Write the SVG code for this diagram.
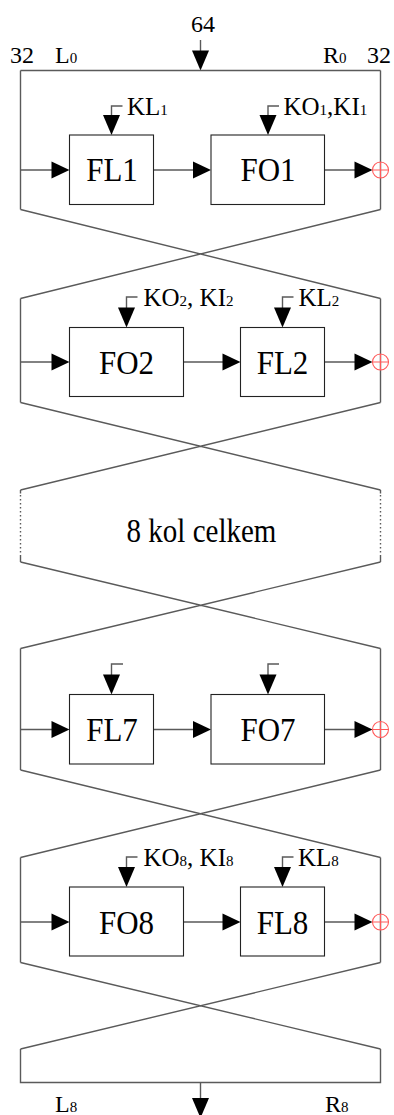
<svg xmlns="http://www.w3.org/2000/svg" width="394" height="1115" viewBox="0 0 394 1115">
<style>
.ln{fill:none;stroke:#5a5a5a;stroke-width:1.4}
.dot{fill:none;stroke:#5a5a5a;stroke-width:1.4;stroke-dasharray:1.4 2.6}
.box{fill:#fff;stroke:#222;stroke-width:1.1}
.ah{fill:#000}
.xor{fill:none;stroke:#ff5a5a;stroke-width:1.1}
.t{font-family:"Liberation Serif","Times New Roman",serif;fill:#000}
.big{font-size:31px;text-anchor:middle}
.lab{font-size:24px}
.key{font-size:25px}
.sub{font-size:15px}
</style>
<defs>
<g id="ahd"><path class="ah" d="M-8.5,-20 L8.5,-20 L0,0 Z"/></g>
<g id="ahr"><path class="ah" d="M-18,-8.5 L-18,8.5 L0,0 Z"/></g>
<g id="xr"><circle class="xor" cx="0" cy="0" r="8"/><path class="xor" d="M-8,0H8M0,-8V8"/></g>
</defs>

<g id="connectors">
<path class="ln" d="M200.5,40V52"/>
<use href="#ahd" x="200.5" y="70.5"/>
<path class="ln" d="M20.5,70.5H380.5"/>
<path class="ln" d="M20.5,70.5V209.5M380.5,70.5V209.5"/>
<path class="ln" d="M20.5,170H52M153.5,170H194M324.5,170H355"/>
<use href="#ahr" x="69.5" y="170"/><use href="#ahr" x="211" y="170"/><use href="#ahr" x="372.5" y="170"/>
<path class="ln" d="M122.5,106H111.5V116M279,106H268V116"/>
<use href="#ahd" x="111.5" y="135"/><use href="#ahd" x="268" y="135"/>
<path class="ln" d="M20.5,209.5L380.5,298.5M380.5,209.5L20.5,298.5"/>
<path class="ln" d="M20.5,298.5V402.5M380.5,298.5V402.5"/>
<path class="ln" d="M20.5,362H52M183.5,362H223M324.5,362H355"/>
<use href="#ahr" x="69.5" y="362"/><use href="#ahr" x="240.5" y="362"/><use href="#ahr" x="372.5" y="362"/>
<path class="ln" d="M137.5,297H126.5V308M293.5,297H282.5V308"/>
<use href="#ahd" x="126.5" y="327.5"/><use href="#ahd" x="282.5" y="327.5"/>
<path class="ln" d="M20.5,402.5L380.5,490M380.5,402.5L20.5,490"/>
<path class="ln" d="M20.5,490V493.5M380.5,490V493.5M20.5,555V562M380.5,555V562"/>
<path class="dot" d="M20.5,495V555M380.5,495V555"/>
<path class="ln" d="M20.5,562L380.5,648.5M380.5,562L20.5,648.5"/>
<path class="ln" d="M20.5,648.5V770M380.5,648.5V770"/>
<path class="ln" d="M20.5,729.5H52M153.5,729.5H194M324.5,729.5H355"/>
<use href="#ahr" x="69.5" y="729.5"/><use href="#ahr" x="211" y="729.5"/><use href="#ahr" x="372.5" y="729.5"/>
<path class="ln" d="M123,664H111.5V676M279,664H268V676"/>
<use href="#ahd" x="111.5" y="694.5"/><use href="#ahd" x="268" y="694.5"/>
<path class="ln" d="M20.5,770L380.5,857.5M380.5,770L20.5,857.5"/>
<path class="ln" d="M20.5,857.5V962.5M380.5,857.5V962.5"/>
<path class="ln" d="M20.5,922H52M183.5,922H223M324.5,922H355"/>
<use href="#ahr" x="69.5" y="922"/><use href="#ahr" x="240.5" y="922"/><use href="#ahr" x="372.5" y="922"/>
<path class="ln" d="M137.5,857H126.5V868M293.5,857H282.5V868"/>
<use href="#ahd" x="126.5" y="887"/><use href="#ahd" x="282.5" y="887"/>
<path class="ln" d="M20.5,962.5L380.5,1049M380.5,962.5L20.5,1049"/>
<path class="ln" d="M20.5,1049V1082.5H380.5V1049"/>
<path class="ln" d="M200.5,1082.5V1099"/>
<use href="#ahd" x="200.5" y="1118"/>
</g>

<g id="xor1"><use href="#xr" x="380.5" y="170"/></g>
<g id="xor2"><use href="#xr" x="380.5" y="362"/></g>
<g id="xor7"><use href="#xr" x="380.5" y="729.5"/></g>
<g id="xor8"><use href="#xr" x="380.5" y="922"/></g>

<g id="FL1"><rect class="box" x="69.5" y="135" width="84" height="69.5"/><text class="t big" transform="translate(112,180.5) scale(1,1.12)">FL1</text></g>
<g id="FO1"><rect class="box" x="211" y="135" width="113.5" height="69.5"/><text class="t big" transform="translate(268,180.5) scale(1,1.12)">FO1</text></g>
<g id="FO2"><rect class="box" x="69.5" y="327.5" width="114" height="69"/><text class="t big" transform="translate(126.5,373.5) scale(1,1.12)">FO2</text></g>
<g id="FL2"><rect class="box" x="240.5" y="327.5" width="84" height="69"/><text class="t big" transform="translate(282.5,373.5) scale(1,1.12)">FL2</text></g>
<g id="FL7"><rect class="box" x="69.5" y="694.5" width="84" height="69.5"/><text class="t big" transform="translate(112,740.5) scale(1,1.12)">FL7</text></g>
<g id="FO7"><rect class="box" x="211" y="694.5" width="113.5" height="69.5"/><text class="t big" transform="translate(268,740.5) scale(1,1.12)">FO7</text></g>
<g id="FO8"><rect class="box" x="69.5" y="887" width="114" height="69"/><text class="t big" transform="translate(126.5,933.5) scale(1,1.12)">FO8</text></g>
<g id="FL8"><rect class="box" x="240.5" y="887" width="84" height="69"/><text class="t big" transform="translate(282.5,933.5) scale(1,1.12)">FL8</text></g>

<g id="labels">
<text class="t lab" x="203" y="31.5" text-anchor="middle">64</text>
<text class="t lab" x="10" y="63">32</text>
<text class="t lab" x="55" y="63">L<tspan class="sub">0</tspan></text>
<text class="t lab" x="323" y="63">R<tspan class="sub">0</tspan></text>
<text class="t lab" x="367" y="63">32</text>
<text class="t key" x="127" y="115">KL<tspan class="sub">1</tspan></text>
<text class="t key" x="283.5" y="115">KO<tspan class="sub">1</tspan>,KI<tspan class="sub">1</tspan></text>
<text class="t key" x="143.5" y="306">KO<tspan class="sub">2</tspan>, KI<tspan class="sub">2</tspan></text>
<text class="t key" x="298.5" y="306">KL<tspan class="sub">2</tspan></text>
<text class="t" transform="translate(201.5,541.5) scale(1,1.15)" font-size="29" text-anchor="middle">8 kol celkem</text>
<text class="t key" x="143.5" y="866">KO<tspan class="sub">8</tspan>, KI<tspan class="sub">8</tspan></text>
<text class="t key" x="298" y="866">KL<tspan class="sub">8</tspan></text>
<text class="t lab" x="55" y="1111.5">L<tspan class="sub">8</tspan></text>
<text class="t lab" x="325" y="1111.5">R<tspan class="sub">8</tspan></text>
</g>
</svg>
